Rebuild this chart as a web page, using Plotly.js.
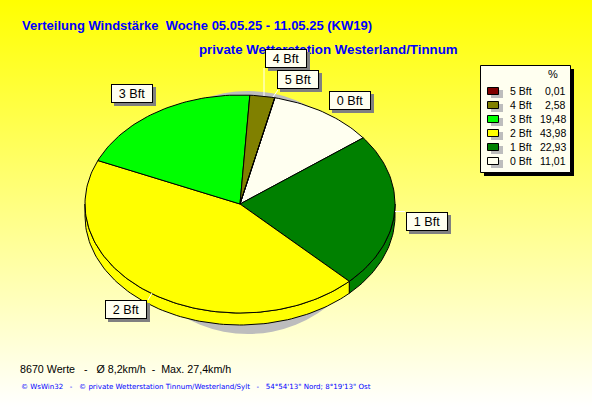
<!DOCTYPE html>
<html><head><meta charset="utf-8">
<script src="https://cdn.plot.ly/plotly-3.0.1.min.js"></script>
<style>html,body{margin:0;padding:0;width:592px;height:407px;overflow:hidden;background:linear-gradient(to bottom,#ffff00 0%,#ffffff 100%);}#c{width:592px;height:407px;}</style>
</head><body><div id="c"></div>
<script>
const categories=['0 Bft','1 Bft','2 Bft','3 Bft','4 Bft','5 Bft'];
const percents=[11.01,22.93,43.98,19.48,2.58,0.01];
const percentLabels=['11,01','22,93','43,98','19,48','2,58','0,01'];
const colors=['#fffff0','#008000','#ffff00','#00ff00','#808000','#800000'];
const labelCenters=[[350,100.5],[426.5,221.5],[125.5,309.5],[132,93.5],[285.5,58],[298,79.5]];
const leaderX=[[395,405],[152,148],[264,264],[273,278]];
const leaderY=[[211.5,211.5],[293,300],[96,68],[97,90]];

const cx=240,cy=204,rx=155,ry=109,depth=12,startAngle=13;
const traces=[];
function pt(t,dy){const r=t*Math.PI/180;return [cx+rx*Math.sin(r),cy+(dy||0)-ry*Math.cos(r)];}
function arc(a,b,dy){const n=Math.max(2,Math.ceil(Math.abs(b-a)/1.5));const o=[];for(let i=0;i<=n;i++)o.push(pt(a+(b-a)*i/n,dy));return o;}
function poly(p,fill,line,w){traces.push({type:'scatter',mode:'lines',x:p.map(q=>q[0]),y:p.map(q=>q[1]),fill:'toself',fillcolor:fill,line:{color:line,width:w===undefined?1:w,shape:'linear'},hoverinfo:'skip',showlegend:false});}

let acc=startAngle;const bounds=percents.map(v=>{const s=acc;acc+=v*3.6;return [s,acc];});

// side wall (visible for angles 90..270)
percents.forEach((v,i)=>{
 const a=Math.max(bounds[i][0],90),b=Math.min(bounds[i][1],270);
 if(b>a){const top=arc(a,b,0),bot=arc(b,a,depth);poly(top.concat(bot,[top[0]]),colors[i],'#000');}
});
// top faces
percents.forEach((v,i)=>{
 const p=[[cx,cy]].concat(arc(bounds[i][0],bounds[i][1],0),[[cx,cy]]);
 poly(p,colors[i],'#000');
});
// leader lines
leaderX.forEach((xs,i)=>traces.push({type:'scatter',mode:'lines',x:xs,y:leaderY[i],line:{color:'#ffffff',width:1},hoverinfo:'skip',showlegend:false}));

const F='"Liberation Sans",Arial,sans-serif';
const shapes=[],ann=[];
// drop shadow of the pie, behind all traces
shapes.push({type:'circle',x0:123,x1:373,y0:91,y1:334,fillcolor:'#bdbdbd',line:{width:0},layer:'below'});
// legend box
shapes.push({type:'rect',x0:484,x1:574,y0:69,y1:176,fillcolor:'#000',line:{width:0}});
shapes.push({type:'rect',x0:480.5,x1:570.5,y0:65.5,y1:172.5,fillcolor:'#fffff0',line:{color:'#000',width:1}});
ann.push({x:552.5,y:74,text:'%',showarrow:false,font:{family:F,size:11,color:'#000'}});
[5,4,3,2,1,0].forEach((idx,r)=>{
 const y=91+r*14;
 shapes.push({type:'rect',x0:491,x1:503,y0:y-1,y1:y+7,fillcolor:'#bdbdbd',line:{width:0}});
 shapes.push({type:'rect',x0:487.5,x1:498.5,y0:y-3.5,y1:y+3.5,fillcolor:colors[idx],line:{color:'#000',width:1}});
 ann.push({x:508,y:y,text:categories[idx],showarrow:false,xanchor:'left',font:{family:F,size:10.5,color:'#000'}});
 ann.push({x:568,y:y,text:percentLabels[idx],showarrow:false,xanchor:'right',font:{family:F,size:10.5,color:'#000'}});
});
// titles (label boxes below are drawn over them)
ann.push({x:20,y:25.5,text:'<b>Verteilung Windstärke  Woche 05.05.25 - 11.05.25 (KW19)</b>',showarrow:false,xanchor:'left',font:{family:F,size:13,color:'#0000ff'}});
ann.push({x:197,y:49.5,text:'<b>private Wetterstation Westerland/Tinnum</b>',showarrow:false,xanchor:'left',font:{family:F,size:13.3,color:'#0000ff'}});
ann.push({x:18,y:369,text:'8670 Werte   -   Ø 8,2km/h  -  Max. 27,4km/h',showarrow:false,xanchor:'left',font:{family:F,size:10.7,color:'#000'}});
ann.push({x:19,y:386,text:'© WsWin32   -   © private Wetterstation Tinnum/Westerland/Sylt   -   54°54\'13" Nord; 8°19\'13" Ost',showarrow:false,xanchor:'left',font:{family:'"DejaVu Sans",sans-serif',size:7.05,color:'#0000ff'}});
// label boxes with shadows, as annotations so they cover the title text
labelCenters.forEach((c,i)=>{
 ann.push({x:c[0]+3,y:c[1]+3,text:' ',showarrow:false,width:40,height:17,bgcolor:'#808080',borderwidth:1,bordercolor:'#808080',borderpad:0,xanchor:'center',yanchor:'middle',font:{size:10}});
 ann.push({x:c[0],y:c[1],text:categories[i],showarrow:false,width:40,height:17,bgcolor:'#fffff0',borderwidth:1,bordercolor:'#000',borderpad:0,xanchor:'center',yanchor:'middle',align:'center',font:{family:F,size:12.6,color:'#000'}});
});

Plotly.newPlot('c',traces,{
 width:592,height:407,margin:{l:0,r:0,t:0,b:0},showlegend:false,
 paper_bgcolor:'rgba(0,0,0,0)',plot_bgcolor:'rgba(0,0,0,0)',
 xaxis:{range:[0,592],visible:false,fixedrange:true},
 yaxis:{range:[407,0],visible:false,fixedrange:true},
 shapes:shapes,annotations:ann
},{staticPlot:true,displayModeBar:false});
</script></body></html>
